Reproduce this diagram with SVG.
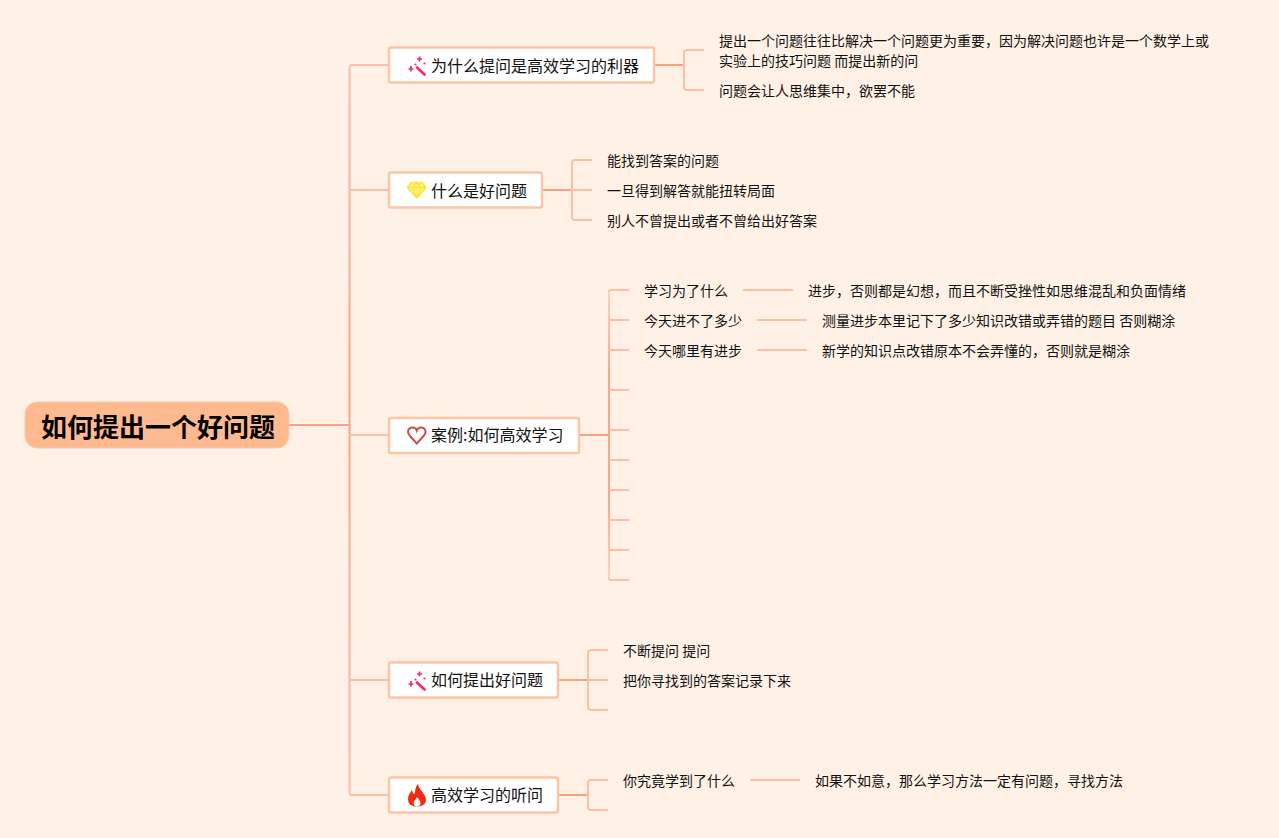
<svg xmlns="http://www.w3.org/2000/svg" width="1279" height="838" viewBox="0 0 1279 838">
<style>
text{font-family:"Noto Sans CJK SC","Noto Sans",sans-serif;fill:#111}
.leaf{font-size:14px}
.label{font-size:16px}
.root{font-size:26px;font-weight:700;fill:#000}
.box{fill:#fff;stroke:#fdc5a5;stroke-width:2.500}
.c{fill:none;stroke:#fdbfa5;stroke-width:2}
.d{fill:none;stroke:#f8a284;stroke-width:2}
</style>
<defs>
<linearGradient id="gMain" gradientUnits="userSpaceOnUse" x1="0" y1="65" x2="0" y2="795">
<stop offset="0" stop-color="#fbbfa5"/><stop offset="0.45" stop-color="#f8a284"/><stop offset="1" stop-color="#fbbfa5"/>
</linearGradient>
<linearGradient id="gCase" gradientUnits="userSpaceOnUse" x1="0" y1="290" x2="0" y2="580">
<stop offset="0" stop-color="#fdd3bd"/><stop offset="0.3" stop-color="#f9a586"/><stop offset="0.7" stop-color="#f9a586"/><stop offset="1" stop-color="#fdd3bd"/>
</linearGradient>
<g id="wand">
<path d="M417 67.500L424.500 74.500" stroke="#ee2f76" stroke-width="2.800" stroke-linecap="round" fill="none"/>
<path d="M419.500 56.500V61.500M417 59H422" stroke="#ee2f76" stroke-width="1.700" fill="none"/>
<path d="M411 66V71.500M408.500 69H413.500" stroke="#ee2f76" stroke-width="1.700" fill="none"/>
<circle cx="415.500" cy="64.500" r="1.100" fill="#ee2f76"/><circle cx="424.500" cy="63.500" r="1.100" fill="#ee2f76"/>
</g>
</defs>
<rect width="1279" height="838" fill="#fff1e6"/>
<g id="connectors">
<path class="d" d="M289 425H349"/>
<path d="M349.500 68V792" fill="none" stroke="url(#gMain)" stroke-width="2"/>
<path class="c" d="M389 65H352Q349.500 65 349.500 68M349.500 190H389M349.500 435H389M349.500 680H389M389 795H352Q349.500 795 349.500 792"/>
<path class="d" d="M654 65H684M542 190H572M579 435H609M558 680H588M558 795H588"/>
<path class="c" d="M704 50H687Q684 50 684 53V87Q684 90 687 90H704"/>
<path class="c" d="M592 160H575Q572 160 572 163V217Q572 220 575 220H592M572 190H592"/>
<path d="M609 292V578" fill="none" stroke="url(#gCase)" stroke-width="2"/>
<path class="c" d="M629 290H611Q609 290 609 292M609 320H629M609 350H629M609 390H629M609 430H629M609 460H629M609 490H629M609 520H629M609 550H629M629 580H611Q609 580 609 578"/>
<path class="c" d="M743 290H793M757 320H807M757 350H807"/>
<path class="c" d="M608 650H591Q588 650 588 653V707Q588 710 591 710H608M588 680H608"/>
<path class="c" d="M608 780H591Q588 780 588 783V807Q588 810 591 810H608"/>
<path class="c" d="M750 780H800"/>
</g>
<g id="root">
<rect x="25" y="402" width="264" height="46" rx="12" fill="#ffb98f" stroke="#ffc8a8"/>
<text class="root" x="41" y="437">如何提出一个好问题</text>
</g>
<g id="node1">
<rect class="box" x="389" y="47.500" width="265" height="35" rx="2"/>
<use href="#wand"/>
<text class="label" x="431" y="72">为什么提问是高效学习的利器</text>
</g>
<g id="node1-leaves">
<text class="leaf" x="719" y="46">提出一个问题往往比解决一个问题更为重要，因为解决问题也许是一个数学上或</text>
<text class="leaf" x="719" y="66">实验上的技巧问题 而提出新的问</text>
<text class="leaf" x="719" y="96">问题会让人思维集中，欲罢不能</text>
</g>
<g id="node2">
<rect class="box" x="389" y="172.500" width="153" height="35" rx="2"/>
<path d="M411.500 182.500H422L426 187.500L416.800 198L407.500 187.500Z" fill="#fff07a" stroke="#fbe53c" stroke-width="1.500"/>
<path d="M407.500 187.500H426M412.500 187.500L416.800 198L421 187.500L416.800 182.500L412.500 187.500" fill="none" stroke="#fbe53c" stroke-width="1.200"/>
<text class="label" x="431" y="197">什么是好问题</text>
</g>
<g id="node2-leaves">
<text class="leaf" x="607" y="166">能找到答案的问题</text>
<text class="leaf" x="607" y="196">一旦得到解答就能扭转局面</text>
<text class="leaf" x="607" y="226">别人不曾提出或者不曾给出好答案</text>
</g>
<g id="node3">
<rect class="box" x="389" y="418" width="190" height="35" rx="2"/>
<path d="M416.800 443.500L410 436C406 431 409 427.500 412.500 427.500C414.800 427.500 416.300 429 416.800 430.500C417.300 429 418.800 427.500 421.100 427.500C424.600 427.500 427.600 431 423.600 436Z" fill="none" stroke="#c9504c" stroke-width="2"/>
<text class="label" x="431" y="441">案例:如何高效学习</text>
</g>
<g id="node3-leaves">
<text class="leaf" x="644" y="296">学习为了什么</text>
<text class="leaf" x="808" y="296">进步，否则都是幻想，而且不断受挫性如思维混乱和负面情绪</text>
<text class="leaf" x="644" y="326">今天进不了多少</text>
<text class="leaf" x="822" y="326">测量进步本里记下了多少知识改错或弄错的题目 否则糊涂</text>
<text class="leaf" x="644" y="356">今天哪里有进步</text>
<text class="leaf" x="822" y="356">新学的知识点改错原本不会弄懂的，否则就是糊涂</text>
</g>
<g id="node4">
<rect class="box" x="389" y="662.500" width="169" height="35" rx="2"/>
<use href="#wand" y="615"/>
<text class="label" x="431" y="686">如何提出好问题</text>
</g>
<g id="node4-leaves">
<text class="leaf" x="623" y="656">不断提问 提问</text>
<text class="leaf" x="623" y="686">把你寻找到的答案记录下来</text>
</g>
<g id="node5">
<rect class="box" x="389" y="777.500" width="169" height="35" rx="2"/>
<path d="M418 784C419 790 426 794 426 800C426 804 422 806.500 417 806.500C411 806.500 408 804 408 799C408 795 410 793 412 790C412.500 793 413.500 794 414.500 794C415.500 791 415 787 418 784Z" fill="#f22b10"/>
<path d="M417 806.500C414.500 806.500 413 804 414 801.500C415 799.500 416.500 799 417 797C418.500 799 420.500 800.500 420.500 803C420.500 805 419 806.500 417 806.500Z" fill="#fff"/>
<text class="label" x="431" y="801">高效学习的听问</text>
</g>
<g id="node5-leaves">
<text class="leaf" x="623" y="786">你究竟学到了什么</text>
<text class="leaf" x="815" y="786">如果不如意，那么学习方法一定有问题，寻找方法</text>
</g>
</svg>
